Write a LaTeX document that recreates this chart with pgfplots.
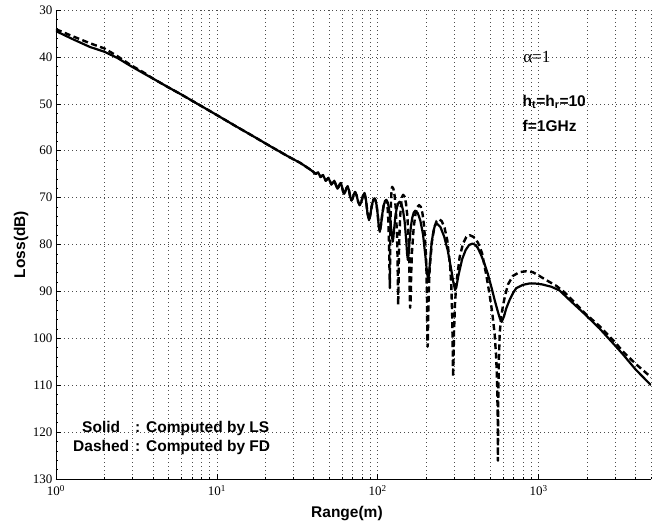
\documentclass[border=0pt]{standalone}
\usepackage{pgfplots}
\pgfplotsset{compat=1.18}
\usepackage{pgfplotstable}
\usepackage{fontspec}
\setmainfont{Liberation Serif}
\newfontfamily\arialfont{Liberation Sans}

\pgfplotstableread{
x y
1 34.5
1.25 36.1
1.63 37.9
2 38.9
2.4 40.2
2.9 41.9
3.5 43.5
4 44.6
5 46.5
6 48.0
7.84 50.3
10 52.4
13 54.7
17 57.0
22 59.25
28 61.3
33 62.6
38 64.0
41.2 64.95
42.6 64.6
44.1 65.6
45.7 65.2
47.5 66.4
49.4 65.8
51.5 67.2
52.6 66.8
53.7 66.4
54.9 67.25
56.2 68.1
57.1 67.8
58.0 67.2
58.9 66.9
59.8 67.5
60.8 68.6
61.8 69.2
62.85 68.8
63.9 68.0
65.0 67.6
66.2 68.35
67.45 69.85
68.7 70.6
69.9 70.15
71.1 69.25
72.3 68.8
73.9 69.5
75.6 70.9
77.3 71.6
79.1 70.95
80.9 69.65
82.8 69.0
84.5 70.45
86.4 73.35
88.3 74.8
89.7 73.9
91.2 72.4
92.6 71.2
94.1 70.4
95.6 70.2
97.0 70.6
98.5 71.7
100.0 73.6
101.5 76.0
103 77.3
104.9 75.7
106.9 73.4
108.9 71.7
110.9 70.8
113 70.5
115.1 70.9
117.3 72.1
119.5 74.3
121.7 77.3
124 79.4
125.2 78.4
126.5 76.7
129.0 73.75
131.6 72.1
134.3 71.2
137 70.9
140.3 71.3
143.6 72.65
147.0 75.1
150.5 79.3
152.2 81.9
154 83.3
155.6 82.1
157.3 79.9
160.6 76.3
164 74.3
167.5 73.2
171 72.8
177.4 73.3
184.1 74.9
191.2 77.8
198.6 82.9
202.3 85.9
206 87.6
208.5 86.2
211.3 83.7
216.4 79.6
221.8 77.2
227 75.9
233 75.5
245.5 76.3
258.8 78.3
272.3 81.2
287 85.5
295 88.0
303 89.7
310 88.6
318 86.5
335 83.1
352 81.2
370 80.1
389 79.8
405 80.1
420 80.8
440 82.3
460 84.0
484 86.3
510 89.2
533 91.8
555 94.0
575 95.8
590 96.5
610 95.3
630 93.6
661 91.8
695 90.3
727 89.3
800 88.6
879 88.3
944 88.3
1050 88.5
1200 89.0
1350 89.8
1600 92.2
1932 94.8
2393 97.9
3000 101.6
3342 103.4
4000 106.6
5000 110.0
}\solidtable

\pgfplotstableread{
x y
1 34.1
1.25 35.5
1.63 37.1
2 38.2
2.4 39.8
2.9 41.7
3.5 43.3
4 44.6
5 46.5
6 48.0
7.84 50.3
10 52.4
13 54.7
17 57.0
22 59.25
28 61.3
33 62.6
38 64.0
41.2 64.95
42.6 64.6
44.1 65.6
45.7 65.2
47.5 66.4
49.4 65.8
51.5 67.2
52.6 66.8
53.7 66.4
54.9 67.25
56.2 68.1
57.1 67.8
58.0 67.2
58.9 66.9
59.8 67.5
60.8 68.6
61.8 69.2
62.85 68.8
63.9 68.0
65.0 67.6
66.2 68.35
67.45 69.85
68.7 70.6
69.9 70.15
71.1 69.25
72.3 68.8
73.9 69.5
75.6 70.9
77.3 71.6
79.1 70.95
80.9 69.65
82.8 69.0
84.5 70.45
86.4 73.35
88.3 74.8
89.7 73.9
91.2 72.4
92.6 71.2
94.1 70.4
95.6 70.2
97.0 70.6
98.5 71.7
100.0 73.6
101.5 76.0
103 77.3
104.9 75.7
106.9 73.4
108.9 71.7
110.9 70.8
113 70.5
115.3 72.3
116.5 75.1
117.8 80.7
118.3 85.0
119 89.3
119.5 82.2
119.8 77.9
120.6 72.3
121.4 69.5
122.2 68.1
123 67.7
125.1 68.1
127.3 69.5
129.5 72.3
131.8 77.9
132.7 82.2
133.4 88.2
134 92.9
134.6 89.9
135.2 83.9
136.0 79.6
137.9 74.0
139.9 71.2
141.9 69.8
144 69.4
146.9 69.8
149.9 71.2
152.9 74.0
155.9 79.6
157.1 83.9
158.1 89.9
159 93.5
160.2 92.1
161.5 86.1
163.2 81.8
167.5 76.2
171.9 73.4
176.4 72.0
181 71.6
185.4 72.0
189.9 73.4
194.5 76.2
199.2 81.8
201.1 86.1
202.5 92.1
203.2 98.1
204 101.8
205.0 101.1
206.0 95.1
208.0 89.1
210.7 84.8
217.7 79.2
224.9 76.4
232.3 75.0
240 74.6
249.9 75.0
260.3 76.4
271.0 79.2
282.3 84.8
287.0 89.1
290.4 95.1
292.2 101.1
294 108.2
296.1 104.5
298.2 98.5
302.5 92.5
308.3 88.2
323.4 82.6
339.1 79.8
355.6 78.4
373 78.0
395 78.4
420 79.6
445 81.8
473 86.5
495 90.5
515 94.5
533 99.0
545 104.0
553 110.0
557 117.0
559 126.1
560.5 119.0
562 112.0
566 105.5
573 99.0
585 95.5
601 93.0
620 90.8
646 88.5
692 86.7
760 85.9
838 85.7
920 85.9
990 86.5
1117 87.6
1288 88.8
1450 90.2
1700 92.6
1932 94.6
2393 97.4
3000 100.9
3342 102.8
4000 105.4
5000 108.3
}\dashedtable

\begin{document}
\begin{tikzpicture}
\begin{axis}[
  scale only axis,
  width=595bp, height=469bp,
  xmode=log, xmin=1, xmax=5000,
  ymin=30, ymax=130, y dir=reverse,
  axis x line*=bottom, axis y line*=left,
  axis line style={-, line width=0.9bp, black},
  xtick={1,10,100,1000},
  xticklabels={10\textsuperscript{0},10\textsuperscript{1},10\textsuperscript{2},10\textsuperscript{3}},
  minor xtick={2,3,4,5,6,7,8,9,20,30,40,50,60,70,80,90,200,300,400,500,600,700,800,900,2000,3000,4000,5000},
  ytick={30,40,50,60,70,80,90,100,110,120,130},
  minor y tick num=4,
  xmajorgrids=true, xminorgrids=true, ymajorgrids=true,
  major grid style={black!70, line width=0.6bp, dash pattern=on 0.6bp off 3.4bp},
  minor grid style={black!70, line width=0.6bp, dash pattern=on 0.6bp off 3.4bp},
  tick align=inside,
  major tick length=5bp, minor tick length=2.5bp,
  tick style={black, line width=0.6bp},
  /pgf/number format/assume math mode=true,
  tick label style={font=\fontsize{13bp}{15bp}\selectfont},
  xticklabel style={yshift=-3bp},
  xlabel={\arialfont\bfseries Range(m)},
  ylabel={\arialfont\bfseries Loss(dB)},
  label style={font=\fontsize{15.5bp}{18bp}\selectfont},
  xlabel style={at={(axis description cs:0.489,-0.0746)}, anchor=center},
  ylabel style={at={(axis description cs:-0.0588,0.5)}, anchor=center},
]
\addplot[black, line width=2.2bp, line join=round] table[x=x,y=y] {\solidtable};
\addplot[black, line width=2.4bp, line join=round, dash pattern=on 6bp off 3.5bp] table[x=x,y=y] {\dashedtable};

\node[anchor=west, inner sep=0pt, font=\fontsize{17bp}{19bp}\selectfont] at (axis description cs:0.785,0.900) {α=1};
\node[anchor=base west, inner sep=0pt, font=\arialfont\bfseries\fontsize{15.5bp}{18bp}\selectfont] at (axis description cs:0.784,0.795) {h\textsubscript{t}=h\textsubscript{r}=10};
\node[anchor=base west, inner sep=0pt, font=\arialfont\bfseries\fontsize{15.5bp}{18bp}\selectfont] at (axis description cs:0.784,0.740) {f=1GHz};
\node[anchor=base west, inner sep=0pt, font=\arialfont\bfseries\fontsize{15.5bp}{18bp}\selectfont] at (axis description cs:0.0437,0.0987) {Solid};
\node[anchor=base west, inner sep=0pt, font=\arialfont\bfseries\fontsize{15.5bp}{18bp}\selectfont] at (axis description cs:0.1328,0.0987) {: Computed by LS};
\node[anchor=base west, inner sep=0pt, font=\arialfont\bfseries\fontsize{15.5bp}{18bp}\selectfont] at (axis description cs:0.0286,0.0582) {Dashed};
\node[anchor=base west, inner sep=0pt, font=\arialfont\bfseries\fontsize{15.5bp}{18bp}\selectfont] at (axis description cs:0.1328,0.0582) {: Computed by FD};
\end{axis}
\path ([xshift=-56bp,yshift=-50bp]current axis.south west) rectangle ([xshift=16bp,yshift=10bp]current axis.north east);
\end{tikzpicture}
\end{document}
